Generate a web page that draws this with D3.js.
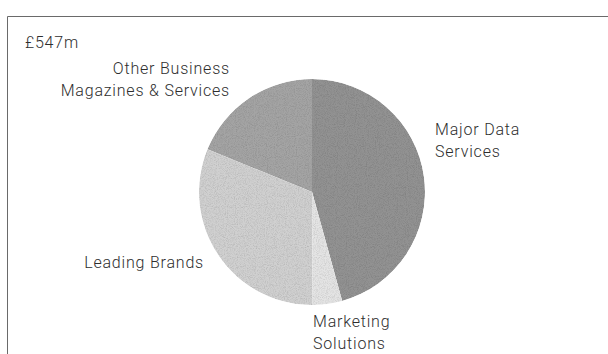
<!doctype html>
<html lang="en">

<head>
  <meta charset="UTF-8">
  <title>Revenue pie</title>
  <style type="text/css">
    body { margin: 0; background: #fff; }
    text { font-family: Roboto, "Liberation Sans", sans-serif; }
  </style>
  <script src="https://cdn.jsdelivr.net/npm/d3@7/dist/d3.min.js"></script>
</head>

<body>
  <div id="container"></div>
  <script>
    // data (£m, total 547)
    var categories = ['Major Data Services', 'Marketing Solutions', 'Leading Brands', 'Other Business Magazines & Services'];
    var values = [250, 23, 171, 103];
    var total = '£547m';
    // label lines for each slice
    var labelLines = [
      ['Major Data', 'Services'],
      ['Marketing', 'Solutions'],
      ['Leading Brands'],
      ['Other Business', 'Magazines & Services']
    ];

    var width = 608,
      height = 354,
      cx = 312,
      cy = 192,
      radius = 113;

    var colors = ['#929292', '#e4e4e4', '#d0d0d0', '#a4a4a4'];
    // where each label sits, relative to the pie centre
    var labelPos = [
      { dx: 123, dy: -57, anchor: 'start' },
      { dx: 1, dy: 135, anchor: 'start' },
      { dx: -108, dy: 76, anchor: 'end' },
      { dx: -82, dy: -118, anchor: 'end' }
    ];

    var svg = d3.select('#container').append('svg')
      .attr('width', width).attr('height', height);

    // halftone-ish grain for the printed slices
    var f = svg.append('defs').append('filter').attr('id', 'grain')
      .attr('x', 0).attr('y', 0).attr('width', 1).attr('height', 1);
    f.append('feTurbulence').attr('type', 'fractalNoise').attr('baseFrequency', 1.1)
      .attr('numOctaves', 1).attr('seed', 3).attr('result', 'n');
    f.append('feColorMatrix').attr('in', 'n').attr('type', 'saturate').attr('values', 0).attr('result', 'g');
    var ct = f.append('feComponentTransfer').attr('in', 'g').attr('result', 'm');
    ['feFuncR', 'feFuncG', 'feFuncB'].forEach(function (c) {
      ct.append(c).attr('type', 'linear').attr('slope', 0.8).attr('intercept', 0.55);
    });
    ct.append('feFuncA').attr('type', 'linear').attr('slope', 0).attr('intercept', 1);
    f.append('feBlend').attr('in', 'SourceGraphic').attr('in2', 'm').attr('mode', 'multiply').attr('result', 'b');
    f.append('feComposite').attr('in', 'b').attr('in2', 'SourceGraphic').attr('operator', 'in');

    // frame (top and left edges of the scanned box)
    svg.append('path')
      .attr('d', 'M7.5,' + height + 'V16.5H' + width)
      .attr('fill', 'none')
      .attr('stroke', '#6a6a6a')
      .attr('stroke-width', 1);

    var pie = d3.pie().sort(null).value(function (d) { return d; });
    var arc = d3.arc().innerRadius(0).outerRadius(radius);

    var g = svg.append('g').attr('transform', 'translate(' + cx + ',' + cy + ')');
    g.append('g').attr('filter', 'url(#grain)')
      .selectAll('path')
      .data(pie(values))
      .enter().append('path')
      .attr('d', arc)
      .attr('fill', function (d, i) { return colors[i]; });

    // labels
    var lab = g.selectAll('text.lab')
      .data(labelLines)
      .enter().append('text')
      .attr('class', 'lab')
      .attr('x', function (d, i) { return labelPos[i].dx; })
      .attr('y', function (d, i) { return labelPos[i].dy; })
      .attr('text-anchor', function (d, i) { return labelPos[i].anchor; })
      .attr('font-size', 16)
      .attr('font-weight', 300)
      .attr('letter-spacing', 0.8)
      .attr('fill', '#2e2e2e');
    lab.selectAll('tspan')
      .data(function (d, i) { return d.map(function (t) { return { t: t, i: i }; }); })
      .enter().append('tspan')
      .attr('x', function (d) { return labelPos[d.i].dx; })
      .attr('dy', function (d, j) { return j === 0 ? 0 : 22; })
      .text(function (d) { return d.t; });

    svg.append('text')
      .attr('x', 25).attr('y', 48)
      .attr('font-size', 16)
      .attr('font-weight', 300)
      .attr('letter-spacing', 0.8)
      .attr('fill', '#2e2e2e')
      .text(total);
  </script>
</body>

</html>
